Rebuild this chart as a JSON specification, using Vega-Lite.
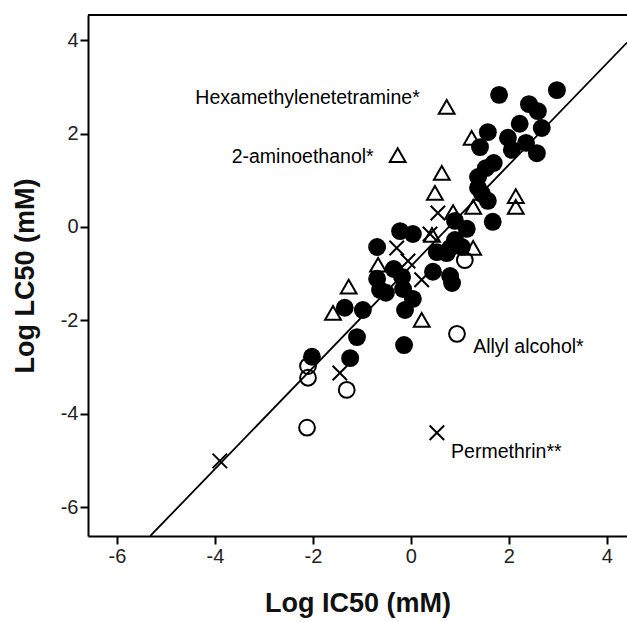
{
  "$schema": "https://vega.github.io/schema/vega-lite/v6.json",
  "autosize": {"type": "none"},
  "padding": {"left": 88, "top": 15, "right": 0, "bottom": 85},
  "width": 539,
  "height": 521,
  "background": "white",
  "config": {
    "view": {"stroke": null},
    "font": "Liberation Sans",
    "axis": {
      "domainColor": "black", "domainWidth": 2,
      "tickColor": "black", "tickWidth": 2, "tickSize": 8,
      "labelFont": "Liberation Sans", "labelFontSize": 20, "labelColor": "#222222", "labelPadding": 2,
      "titleFont": "Liberation Sans", "titleFontSize": 27, "titleFontWeight": "bold", "titleColor": "#111111",
      "grid": false
    },
    "axisX": {"titlePadding": 24},
    "axisY": {"titlePadding": 21}
  },
  "datasets": {
    "points": [
      {"x": 1.80, "y": 2.83, "t": "F"},
      {"x": 2.98, "y": 2.93, "t": "F"},
      {"x": 2.41, "y": 2.63, "t": "F"},
      {"x": 2.59, "y": 2.48, "t": "F"},
      {"x": 2.22, "y": 2.21, "t": "F"},
      {"x": 2.67, "y": 2.12, "t": "F"},
      {"x": 1.57, "y": 2.03, "t": "F"},
      {"x": 1.41, "y": 1.71, "t": "F"},
      {"x": 1.98, "y": 1.91, "t": "F"},
      {"x": 2.06, "y": 1.65, "t": "F"},
      {"x": 2.35, "y": 1.80, "t": "F"},
      {"x": 2.57, "y": 1.58, "t": "F"},
      {"x": 1.69, "y": 1.37, "t": "F"},
      {"x": 1.53, "y": 1.26, "t": "F"},
      {"x": 1.37, "y": 1.07, "t": "F"},
      {"x": 1.37, "y": 0.84, "t": "F"},
      {"x": 1.45, "y": 0.71, "t": "F"},
      {"x": 1.57, "y": 0.56, "t": "F"},
      {"x": 1.67, "y": 0.11, "t": "F"},
      {"x": 0.90, "y": 0.13, "t": "F"},
      {"x": 1.14, "y": -0.04, "t": "F"},
      {"x": 0.90, "y": -0.28, "t": "F"},
      {"x": -0.22, "y": -0.09, "t": "F"},
      {"x": 0.04, "y": -0.15, "t": "F"},
      {"x": -0.69, "y": -0.43, "t": "F"},
      {"x": 0.53, "y": -0.54, "t": "F"},
      {"x": 0.80, "y": -0.45, "t": "F"},
      {"x": 1.04, "y": -0.43, "t": "F"},
      {"x": 0.73, "y": -0.56, "t": "F"},
      {"x": -0.35, "y": -0.90, "t": "F"},
      {"x": -0.69, "y": -1.11, "t": "F"},
      {"x": -0.63, "y": -1.35, "t": "F"},
      {"x": -0.51, "y": -1.41, "t": "F"},
      {"x": -0.16, "y": -1.33, "t": "F"},
      {"x": -0.18, "y": -1.07, "t": "F"},
      {"x": 0.45, "y": -0.96, "t": "F"},
      {"x": 0.80, "y": -1.05, "t": "F"},
      {"x": 0.84, "y": -1.20, "t": "F"},
      {"x": 0.04, "y": -1.54, "t": "F"},
      {"x": -0.12, "y": -1.78, "t": "F"},
      {"x": -1.35, "y": -1.73, "t": "F"},
      {"x": -0.98, "y": -1.78, "t": "F"},
      {"x": -1.10, "y": -2.36, "t": "F"},
      {"x": -0.14, "y": -2.53, "t": "F"},
      {"x": -2.02, "y": -2.78, "t": "F"},
      {"x": -1.24, "y": -2.81, "t": "F"},
      {"x": 0.94, "y": -2.29, "t": "O"},
      {"x": 1.10, "y": -0.71, "t": "O"},
      {"x": -2.10, "y": -2.98, "t": "O"},
      {"x": -2.10, "y": -3.23, "t": "O"},
      {"x": -1.31, "y": -3.49, "t": "O"},
      {"x": -2.12, "y": -4.30, "t": "O"},
      {"x": 0.73, "y": 2.57, "t": "T"},
      {"x": -0.27, "y": 1.54, "t": "T"},
      {"x": 1.24, "y": 1.91, "t": "T"},
      {"x": 0.63, "y": 1.16, "t": "T"},
      {"x": 0.49, "y": 0.73, "t": "T"},
      {"x": 2.14, "y": 0.66, "t": "T"},
      {"x": 2.14, "y": 0.43, "t": "T"},
      {"x": 1.27, "y": 0.43, "t": "T"},
      {"x": 0.86, "y": 0.32, "t": "T"},
      {"x": 0.43, "y": -0.17, "t": "T"},
      {"x": 1.27, "y": -0.45, "t": "T"},
      {"x": -0.67, "y": -0.81, "t": "T"},
      {"x": -1.27, "y": -1.28, "t": "T"},
      {"x": -1.59, "y": -1.84, "t": "T"},
      {"x": 0.22, "y": -1.99, "t": "T"},
      {"x": 0.55, "y": 0.30, "t": "X"},
      {"x": 0.39, "y": -0.15, "t": "X"},
      {"x": -0.29, "y": -0.45, "t": "X"},
      {"x": -0.06, "y": -0.73, "t": "X"},
      {"x": 0.22, "y": -1.13, "t": "X"},
      {"x": -1.45, "y": -3.13, "t": "X"},
      {"x": -3.90, "y": -5.01, "t": "X"},
      {"x": 0.53, "y": -4.41, "t": "X"}
    ],
    "fit": [
      {"x": -5.32, "y": -6.62},
      {"x": 4.41, "y": 3.95}
    ],
    "labelsRight": [
      {"x": 0.18, "y": 2.76, "label": "Hexamethylenetetramine*"},
      {"x": -0.76, "y": 1.50, "label": "2-aminoethanol*"}
    ],
    "labelsLeft": [
      {"x": 1.27, "y": -2.57, "label": "Allyl alcohol*"},
      {"x": 0.82, "y": -4.82, "label": "Permethrin**"}
    ],
    "frame": [{"top": 4.54}]
  },
  "layer": [
    {
      "data": {"name": "fit"},
      "mark": {"type": "line", "color": "black", "strokeWidth": 1.8, "clip": true},
      "encoding": {
        "x": {"field": "x", "type": "quantitative", "scale": {"domain": [-6.59, 4.41], "nice": false, "zero": false}, "axis": {"values": [-6, -4, -2, 0, 2, 4], "labelExpr": "'' + datum.value"}, "title": "Log IC50 (mM)"},
        "y": {"field": "y", "type": "quantitative", "scale": {"domain": [-6.62, 4.54], "nice": false, "zero": false}, "axis": {"values": [-6, -4, -2, 0, 2, 4], "labelExpr": "'' + datum.value"}, "title": "Log LC50 (mM)"}
      }
    },
    {
      "data": {"name": "points"},
      "transform": [{"filter": "datum.t == 'F'"}],
      "mark": {"type": "point", "shape": "circle", "filled": true, "size": 320, "color": "black", "opacity": 1},
      "encoding": {
        "x": {"field": "x", "type": "quantitative", "title": "Log IC50 (mM)"},
        "y": {"field": "y", "type": "quantitative", "title": "Log LC50 (mM)"}
      }
    },
    {
      "data": {"name": "points"},
      "transform": [{"filter": "datum.t == 'O'"}],
      "mark": {"type": "point", "shape": "circle", "filled": false, "size": 250, "color": "black", "strokeWidth": 2, "opacity": 1},
      "encoding": {
        "x": {"field": "x", "type": "quantitative", "title": "Log IC50 (mM)"},
        "y": {"field": "y", "type": "quantitative", "title": "Log LC50 (mM)"}
      }
    },
    {
      "data": {"name": "points"},
      "transform": [{"filter": "datum.t == 'T'"}],
      "mark": {"type": "point", "shape": "triangle-up", "filled": false, "size": 250, "color": "black", "strokeWidth": 2, "opacity": 1},
      "encoding": {
        "x": {"field": "x", "type": "quantitative", "title": "Log IC50 (mM)"},
        "y": {"field": "y", "type": "quantitative", "title": "Log LC50 (mM)"}
      }
    },
    {
      "data": {"name": "points"},
      "transform": [{"filter": "datum.t == 'X'"}],
      "mark": {"type": "point", "shape": "M-1,-1L1,1M1,-1L-1,1", "filled": false, "size": 210, "color": "black", "strokeWidth": 2, "opacity": 1},
      "encoding": {
        "x": {"field": "x", "type": "quantitative", "title": "Log IC50 (mM)"},
        "y": {"field": "y", "type": "quantitative", "title": "Log LC50 (mM)"}
      }
    },
    {
      "data": {"name": "labelsRight"},
      "mark": {"type": "text", "align": "right", "baseline": "middle", "fontSize": 19.5, "font": "Liberation Sans", "color": "black"},
      "encoding": {
        "x": {"field": "x", "type": "quantitative", "title": "Log IC50 (mM)"},
        "y": {"field": "y", "type": "quantitative", "title": "Log LC50 (mM)"},
        "text": {"field": "label"}
      }
    },
    {
      "data": {"name": "labelsLeft"},
      "mark": {"type": "text", "align": "left", "baseline": "middle", "fontSize": 19.5, "font": "Liberation Sans", "color": "black"},
      "encoding": {
        "x": {"field": "x", "type": "quantitative", "title": "Log IC50 (mM)"},
        "y": {"field": "y", "type": "quantitative", "title": "Log LC50 (mM)"},
        "text": {"field": "label"}
      }
    },
    {
      "data": {"name": "frame"},
      "mark": {"type": "rule", "color": "black", "strokeWidth": 2},
      "encoding": {
        "y": {"field": "top", "type": "quantitative", "title": "Log LC50 (mM)"}
      }
    }
  ]
}
